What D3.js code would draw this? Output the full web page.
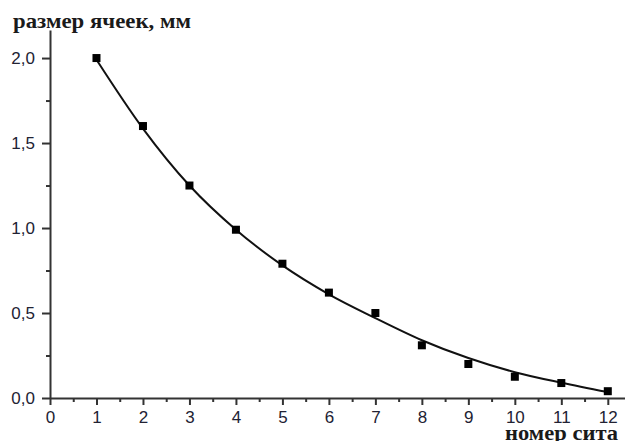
<!DOCTYPE html>
<html>
<head>
<meta charset="utf-8">
<script src="https://cdn.jsdelivr.net/npm/d3@7"></script>
<style>
  html, body { margin: 0; padding: 0; background: #fff; }
  svg { display: block; }
</style>
</head>
<body>
<svg id="chart" width="625" height="441"></svg>
<script>
// ---- data ----
const sieveNumbers = [1, 2, 3, 4, 5, 6, 7, 8, 9, 10, 11, 12];
const meshSizes    = [2.0, 1.6, 1.25, 0.99, 0.79, 0.62, 0.5, 0.31, 0.2, 0.125, 0.088, 0.04];
const fitValues    = [1.99, 1.585, 1.25, 0.99, 0.78, 0.61, 0.47, 0.34, 0.235, 0.152, 0.09, 0.035];
const xTickValues  = [0, 1, 2, 3, 4, 5, 6, 7, 8, 9, 10, 11, 12];
const xMinorTicks  = [0.5, 1.5, 2.5, 3.5, 4.5, 5.5, 6.5, 7.5, 8.5, 9.5, 10.5, 11.5];
const yTickValues  = [0, 0.5, 1.0, 1.5, 2.0];
const yMinorTicks  = [0.25, 0.75, 1.25, 1.75];
const yTitle = "размер ячеек, мм";
const xTitle = "номер сита";

// ---- layout ----
const svg = d3.select("#chart");
const x = d3.scaleLinear().domain([0, 12.37]).range([50, 625]);
const y = d3.scaleLinear().domain([0, 2.165]).range([398, 30]);
const fmt = v => d3.format(".1f")(v).replace(".", ",");
const axisColor = "#333";

// minor ticks
const xMinor = svg.append("g").attr("transform", `translate(0,${y(0)})`)
  .call(d3.axisBottom(x).tickValues(xMinorTicks).tickSize(4).tickSizeOuter(0).tickFormat(""));
const yMinor = svg.append("g").attr("transform", `translate(${x(0)},0)`)
  .call(d3.axisLeft(y).tickValues(yMinorTicks).tickSize(4).tickSizeOuter(0).tickFormat(""));
[xMinor, yMinor].forEach(g => {
  g.select(".domain").remove();
  g.selectAll(".tick line").attr("stroke", axisColor).attr("stroke-width", 2);
});

// major axes
const xAxis = svg.append("g").attr("transform", `translate(0,${y(0)})`)
  .call(d3.axisBottom(x).tickValues(xTickValues).tickSize(7).tickSizeOuter(0).tickPadding(6).tickFormat(d3.format("d")));
const yAxis = svg.append("g").attr("transform", `translate(${x(0)},0)`)
  .call(d3.axisLeft(y).tickValues(yTickValues).tickSize(8).tickSizeOuter(0).tickPadding(7).tickFormat(fmt));
[xAxis, yAxis].forEach(g => {
  g.select(".domain").attr("stroke", axisColor).attr("stroke-width", 2);
  g.selectAll(".tick line").attr("stroke", axisColor).attr("stroke-width", 2);
  g.selectAll(".tick text")
    .attr("fill", "#222233")
    .style("font-family", "'Liberation Sans', Arial, sans-serif")
    .style("font-size", "17px");
});

// fit curve
const line = d3.line()
  .x((d, i) => x(sieveNumbers[i]))
  .y(d => y(d))
  .curve(d3.curveMonotoneX);
svg.append("path")
  .datum(fitValues)
  .attr("d", line)
  .attr("fill", "none")
  .attr("stroke", "#111")
  .attr("stroke-width", 2);

// markers
const ms = 8;
svg.append("g").selectAll("rect")
  .data(meshSizes)
  .join("rect")
  .attr("x", (d, i) => x(sieveNumbers[i]) - ms / 2)
  .attr("y", d => y(d) - ms / 2)
  .attr("width", ms)
  .attr("height", ms)
  .attr("fill", "#000");

// titles
svg.append("text")
  .attr("x", 13).attr("y", 28)
  .attr("textLength", 178)
  .attr("lengthAdjust", "spacingAndGlyphs")
  .style("font-family", "'Liberation Serif', 'Times New Roman', serif")
  .style("font-weight", "bold")
  .style("font-size", "22px")
  .attr("fill", "#1a1a1a")
  .text(yTitle);
svg.append("text")
  .attr("x", 505).attr("y", 440)
  .attr("textLength", 113)
  .attr("lengthAdjust", "spacingAndGlyphs")
  .style("font-family", "'Liberation Serif', 'Times New Roman', serif")
  .style("font-weight", "bold")
  .style("font-size", "20px")
  .attr("fill", "#1a1a1a")
  .text(xTitle);
</script>
</body>
</html>
